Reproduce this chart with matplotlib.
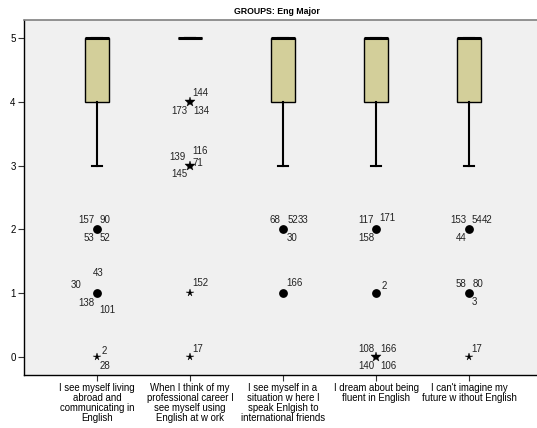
import matplotlib
matplotlib.use("Agg")
import matplotlib.pyplot as plt

# --- data ---------------------------------------------------------------
categories = [
    "I see myself living\nabroad and\ncommunicating in\nEnglish",
    "When I think of my\nprofessional career I\nsee myself using\nEnglish at w ork",
    "I see myself in a\nsituation w here I\nspeak Enlgish to\ninternational friends",
    "I dream about being\nfluent in English",
    "I can't imagine my\nfuture w ithout English",
]
q1 = [4, 5, 4, 4, 4]
median = [5, 5, 5, 5, 5]
q3 = [5, 5, 5, 5, 5]
whisker_low = [3, 5, 3, 3, 3]
whisker_high = [5, 5, 5, 5, 5]

# outlier groups: (category index, value, kind, case ids)
outlier_cat = [0, 0, 0, 1, 1, 1, 1, 2, 2, 3, 3, 3, 4, 4, 4]
outlier_val = [2, 1, 0, 4, 3, 1, 0, 2, 1, 2, 1, 0, 2, 1, 0]
outlier_kind = ["o", "o", "*", "*", "*", "*", "*", "o", "o", "o", "o", "*", "o", "o", "*"]
outlier_ids = [
    ["157", "90", "53", "52"],
    ["43", "30", "138", "101"],
    ["2", "28"],
    ["144", "173", "134"],
    ["116", "139", "71", "145"],
    ["152"],
    ["17"],
    ["68", "52", "33", "30"],
    ["166"],
    ["117", "171", "158"],
    ["2"],
    ["108", "166", "140", "106"],
    ["153", "54", "42", "44"],
    ["58", "80", "3"],
    ["17"],
]

# --- layout of the case-id labels (pixel offsets from the point) --------
label_offsets = [
    [(-11, 9), (8, 9), (-8, -9), (8, -9)],
    [(1, 20), (-21, 8), (-11, -10), (10, -17)],
    [(7, 6), (8, -9)],
    [(10, 9), (-11, -9), (11, -9)],
    [(10, 15), (-13, 9), (8, 3), (-11, -8)],
    [(10, 10)],
    [(8, 8)],
    [(-8, 9), (10, 9), (20, 9), (9, -9)],
    [(11, 10)],
    [(-10, 9), (11, 11), (-10, -9)],
    [(8, 7)],
    [(-10, 8), (12, 8), (-10, -9), (12, -9)],
    [(-11, 9), (8, 9), (18, 9), (-8, -9)],
    [(-8, 9), (9, 9), (5, -9)],
    [(8, 8)],
]
# stacked extremes are drawn with a heavier star
star_size = [0, 0, 5.5, 7, 7, 5.5, 5.5, 0, 0, 0, 0, 7, 0, 0, 5.5]

FONT = "Liberation Sans"
plt.rcParams["font.family"] = [FONT, "DejaVu Sans"]

W, H = 537, 428
fig = plt.figure(figsize=(W / 100, H / 100), dpi=100)
fig.patch.set_facecolor("white")
left, right, top, bottom = 24, 537, 20, 375
ax = fig.add_axes([left / W, (H - bottom) / H, (right - left) / W, (bottom - top) / H])
ax.set_facecolor("#f0f0f0")

positions = list(range(1, len(categories) + 1))
stats = []
for i in range(len(categories)):
    stats.append(dict(med=median[i], q1=q1[i], q3=q3[i],
                      whislo=whisker_low[i], whishi=whisker_high[i], fliers=[]))

ax.bxp(stats, positions=positions, widths=0.25, patch_artist=True,
       showfliers=False,
       boxprops=dict(facecolor="#d3cf9a", edgecolor="black", linewidth=1.0),
       medianprops=dict(color="black", linewidth=2.2),
       whiskerprops=dict(color="black", linewidth=1.5),
       capprops=dict(color="black", linewidth=1.5),
       capwidths=0.11)

for k in range(len(outlier_cat)):
    x = positions[outlier_cat[k]]
    y = outlier_val[k]
    if outlier_kind[k] == "o":
        ax.plot(x, y, "o", color="black", markersize=5.3, zorder=5)
    else:
        ax.plot(x, y, "*", color="black", markersize=star_size[k],
                markeredgewidth=0.3, zorder=5)
    for lab, (dx, dy) in zip(outlier_ids[k], label_offsets[k]):
        ax.annotate(lab, (x, y), xytext=(dx, dy), textcoords="offset pixels",
                    ha="center", va="center", fontsize=7, color="#222222")

ax.set_xlim(0.215, 5.73)
ax.set_ylim(-0.28, 5.28)
ax.set_xticks(positions)
ax.set_xticklabels(categories, fontsize=6.9, linespacing=1.0)
ax.set_yticks([0, 1, 2, 3, 4, 5])
ax.set_yticklabels(["0", "1", "2", "3", "4", "5"], fontsize=7)
ax.tick_params(axis="both", length=4, width=0.8, color="#333333", pad=2)

ax.spines["right"].set_visible(False)
ax.spines["top"].set_color("#808080")
ax.spines["top"].set_linewidth(1.2)
ax.spines["left"].set_color("black")
ax.spines["bottom"].set_color("black")
ax.spines["left"].set_linewidth(1.0)
ax.spines["bottom"].set_linewidth(1.0)

fig.text(277 / W, 1 - 12 / H, "GROUPS: Eng Major", ha="center", va="center",
         fontsize=6.3, fontweight="bold")

fig.savefig("out.png", dpi=100, facecolor="white")
